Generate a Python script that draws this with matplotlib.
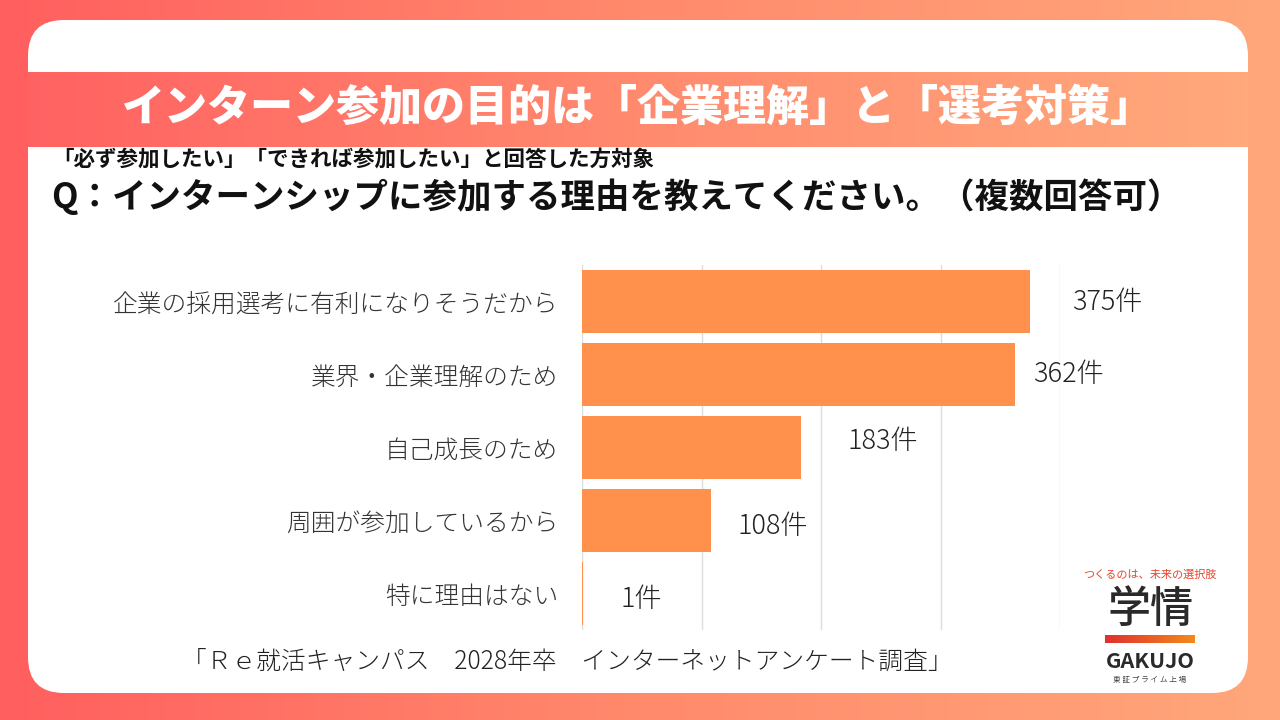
import numpy as np
import matplotlib
matplotlib.use("Agg")
import matplotlib.pyplot as plt
from matplotlib.patches import FancyBboxPatch
from matplotlib.colors import LinearSegmentedColormap

plt.rcParams['font.family'] = ['Noto Sans CJK JP', 'DejaVu Sans']

# ---- data ----
categories = ["企業の採用選考に有利になりそうだから", "業界・企業理解のため", "自己成長のため",
              "周囲が参加しているから", "特に理由はない"]
values = [375, 362, 183, 108, 1]
value_labels = ["375件", "362件", "183件", "108件", "1件"]
label_dx = [30, 13, 34, 19, 27]     # label offsets (points)
label_dy = [0, 0, 5, -4, -4]
xticks = [0, 100, 200, 300, 400]

title = "インターン参加の目的は「企業理解」と「選考対策」"
subtitle = "「必ず参加したい」「できれば参加したい」と回答した方対象"
question = "Q：インターンシップに参加する理由を教えてください。（複数回答可）"
source = "「Ｒｅ就活キャンパス　2028年卒　インターネットアンケート調査」"

W, H = 1280, 720
fig = plt.figure(figsize=(W / 100, H / 100), dpi=100)

# ---- background layer in pixel coordinates ----
bg = fig.add_axes([0, 0, 1, 1])
bg.set_xlim(0, W)
bg.set_ylim(H, 0)
bg.axis('off')

bg_cmap = LinearSegmentedColormap.from_list('bg', ['#FF5F5F', '#FF8A6C', '#FFA77B'])
grad = np.linspace(0, 1, 256).reshape(1, -1)
bg.imshow(grad, cmap=bg_cmap, extent=[0, W, H, 0], aspect='auto', zorder=0)

card = FancyBboxPatch((28, 20), 1220, 673, boxstyle="round,pad=0,rounding_size=36",
                      facecolor='white', edgecolor='none', zorder=1)
bg.add_patch(card)

band_cmap = LinearSegmentedColormap.from_list('band', ['#FF6262', '#FF8A6E', '#FFA97C'])
bg.imshow(grad, cmap=band_cmap, extent=[28, 1248, 147, 72], aspect='auto', zorder=2)

bg.text(638, 108, title, color='white', fontsize=31, fontweight='heavy',
        ha='center', va='center', zorder=3)
bg.text(52, 160, subtitle, color='#111111', fontsize=15.5, fontweight='bold',
        ha='left', va='center', zorder=3)
bg.text(51, 197, question, color='#111111', fontsize=24.8, fontweight='bold',
        ha='left', va='center', zorder=3)
bg.text(182, 662, source, color='#222222', fontsize=17.8, fontweight='light',
        ha='left', va='center', zorder=3)

# logo
bg.text(1150, 575, "つくるのは、未来の選択肢", color='#E8442E', fontsize=8,
        ha='center', va='center', zorder=3)
bg.text(1150, 609, "学情", color='#2A2A2A', fontsize=31, fontweight='medium',
        ha='center', va='center', zorder=3)
logo_cmap = LinearSegmentedColormap.from_list('logo', ['#E0302E', '#F28A1E'])
bg.imshow(grad, cmap=logo_cmap, extent=[1105, 1195, 643, 635], aspect='auto', zorder=3)
bg.text(1150, 662, "GAKUJO", color='#2A2A2A', fontsize=15.5, fontweight='bold',
        ha='center', va='center', zorder=3)
bg.text(1150, 680, "東 証 プ ラ イ ム 上 場", color='#444444', fontsize=5.5,
        ha='center', va='center', zorder=3)

# ---- chart ----
ax = fig.add_axes([582 / W, (H - 630) / H, (1060 - 582) / W, 365 / H])
ax.set_facecolor('none')
y = np.arange(len(categories))
ax.barh(y, values, height=0.875, color='#FF914D', zorder=2)
ax.set_xlim(0, 400)
ax.set_ylim(len(categories) - 0.5, -0.5)
ax.set_xticks(xticks)
ax.tick_params(axis='x', length=0, labelbottom=False)
ax.grid(axis='x', color='#DDDDDD', linewidth=1, zorder=0)
ax.set_yticks(y)
ax.set_yticklabels(categories, fontsize=17.8, color='#333333', fontweight='light')
ax.tick_params(axis='y', length=0, pad=17)
for s in ax.spines.values():
    s.set_visible(False)

for yi, v, lab, dx, dy in zip(y, values, value_labels, label_dx, label_dy):
    ax.annotate(lab, xy=(v, yi), xytext=(dx, dy), textcoords='offset points',
                ha='left', va='center', fontsize=19.5, fontweight='light', color='#222222',
                annotation_clip=False, zorder=3)

fig.savefig('out.png', dpi=100)
